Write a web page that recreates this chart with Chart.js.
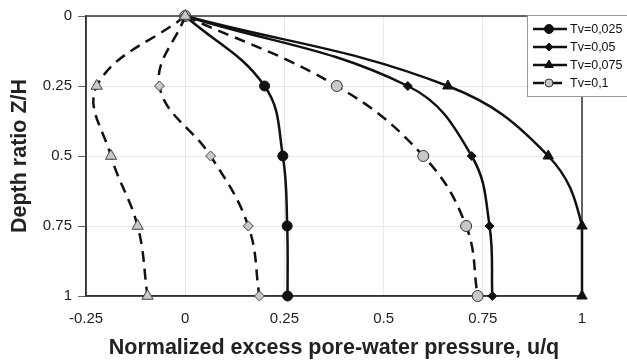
<!DOCTYPE html>
<html>
<head>
<meta charset="utf-8">
<script src="https://cdn.jsdelivr.net/npm/chart.js@4.4.0/dist/chart.umd.min.js"></script>
<style>
  html, body { margin: 0; padding: 0; background: #fff; }
  #wrap { width: 627px; height: 364px; }
</style>
</head>
<body>
<div id="wrap"><canvas id="myChart" width="627" height="364"></canvas></div>
<script>
// depth ratio Z/H (y) and normalized excess pore-water pressure u/q (x)
const depth = [0, 0.25, 0.5, 0.75, 1];
const tv0025 = [0, 0.200, 0.246, 0.257, 0.258];
const tv005 = [0, 0.561, 0.722, 0.767, 0.774];
const tv0075 = [0, 0.662, 0.915, 1.0, 1.0];
const tv01 = [0, 0.382, 0.600, 0.708, 0.737];
const dashDiamond = [0, -0.065, 0.064, 0.159, 0.187];
const dashTriangle = [0, -0.223, -0.187, -0.120, -0.095];

const xTicks = [-0.25, 0, 0.25, 0.5, 0.75, 1];
const yTicks = [0, 0.25, 0.5, 0.75, 1];

function toPoints(values) {
    return values.map((v, i) => ({ x: v, y: depth[i] }));
}

const DARK = '#111';
const GRAY = '#c8c8c8';
const FONT = '"Liberation Sans", Arial, sans-serif';

// frame around the plot area (top + right sides)
const framePlugin = {
    id: 'frame',
    beforeDatasetsDraw(chart) {
        const { ctx, chartArea } = chart;
        ctx.save();
        ctx.strokeStyle = '#333';
        ctx.lineWidth = 1.5;
        ctx.strokeRect(chartArea.left, chartArea.top, chartArea.right - chartArea.left, chartArea.bottom - chartArea.top);
        ctx.restore();
    }
};

// boxed legend in the top right corner, only for the labelled series
const boxLegend = {
    id: 'boxLegend',
    afterDraw(chart) {
        const c = chart.ctx;
        const items = chart.data.datasets.filter(d => d.inLegend);
        c.save();
        c.fillStyle = '#fff';
        c.fillRect(527, 15, 120, 81);
        c.strokeStyle = '#999';
        c.lineWidth = 1;
        c.strokeRect(527.5, 15.5, 120, 81);
        c.font = '12.5px ' + FONT;
        c.textBaseline = 'middle';
        items.forEach((d, i) => {
            const y = 29 + i * 18;
            c.strokeStyle = d.borderColor;
            c.lineWidth = 2.5;
            c.setLineDash(d.borderDash || []);
            c.beginPath();
            c.moveTo(533, y);
            c.lineTo(567, y);
            c.stroke();
            c.setLineDash([]);
            c.fillStyle = d.pointBackgroundColor;
            c.strokeStyle = d.pointBorderColor;
            c.lineWidth = d.pointBorderWidth;
            Chart.helpers.drawPoint(c, {
                pointStyle: d.pointStyle,
                radius: d.legendRadius,
                borderWidth: d.pointBorderWidth,
                rotation: 0
            }, 549, y);
            c.fillStyle = '#111';
            c.fillText(d.label, 570, y + 0.5);
        });
        c.restore();
    }
};

const ctx = document.getElementById('myChart').getContext('2d');
const myChart = new Chart(ctx, {
    type: 'scatter',
    data: {
        datasets: [
            {
                label: 'Tv=0,025', inLegend: true, legendRadius: 4.5,
                data: toPoints(tv0025), order: 3,
                borderColor: DARK, borderWidth: 2.5,
                pointStyle: 'circle', pointRadius: 5,
                pointBackgroundColor: DARK, pointBorderColor: DARK, pointBorderWidth: 1
            },
            {
                label: 'Tv=0,05', inLegend: true, legendRadius: 4,
                data: toPoints(tv005), order: 4,
                borderColor: DARK, borderWidth: 2.5,
                pointStyle: 'rectRot', pointRadius: 4.5,
                pointBackgroundColor: DARK, pointBorderColor: DARK, pointBorderWidth: 1
            },
            {
                label: 'Tv=0,075', inLegend: true, legendRadius: 5,
                data: toPoints(tv0075), order: 5,
                borderColor: DARK, borderWidth: 2.5,
                pointStyle: 'triangle', pointRadius: 6,
                pointBackgroundColor: DARK, pointBorderColor: DARK, pointBorderWidth: 1
            },
            {
                label: 'Tv=0,1', inLegend: true, legendRadius: 4,
                data: toPoints(tv01), order: 2,
                borderColor: DARK, borderWidth: 2.5, borderDash: [11, 7],
                pointStyle: 'circle', pointRadius: 5.5,
                pointBackgroundColor: GRAY, pointBorderColor: '#333', pointBorderWidth: 1
            },
            {
                label: '', inLegend: false,
                data: toPoints(dashDiamond), order: 1,
                borderColor: DARK, borderWidth: 2.5, borderDash: [11, 7],
                pointStyle: 'rectRot', pointRadius: 5,
                pointBackgroundColor: GRAY, pointBorderColor: '#444', pointBorderWidth: 1
            },
            {
                label: '', inLegend: false,
                data: toPoints(dashTriangle), order: 0,
                borderColor: DARK, borderWidth: 2.5, borderDash: [11, 7],
                pointStyle: 'triangle', pointRadius: 6.5,
                pointBackgroundColor: GRAY, pointBorderColor: '#444', pointBorderWidth: 1
            }
        ]
    },
    options: {
        responsive: false,
        animation: false,
        devicePixelRatio: 1,
        showLine: true,
        datasets: { scatter: { clip: false } },
        elements: { line: { tension: 0.4, fill: false, capBezierPoints: true } },
        layout: { padding: { top: 16, right: 45, left: 0, bottom: 0 } },
        plugins: {
            legend: { display: false },
            tooltip: { enabled: false }
        },
        scales: {
            x: {
                type: 'linear',
                min: -0.25, max: 1,
                afterBuildTicks: s => { s.ticks = xTicks.map(v => ({ value: v })); },
                afterFit: s => { s.height = 68; },
                grid: { color: '#e8e8e8', drawTicks: false },
                border: { color: '#333', width: 1.5 },
                ticks: {
                    padding: 14, color: '#222',
                    font: { family: FONT, size: 15 },
                    callback: v => String(v)
                },
                title: {
                    display: true,
                    text: 'Normalized excess pore-water pressure, u/q',
                    color: '#222',
                    font: { family: FONT, size: 21.5, weight: 'bold' },
                    padding: { top: 0, bottom: 3 }
                }
            },
            y: {
                type: 'linear',
                reverse: true,
                min: 0, max: 1,
                afterBuildTicks: s => { s.ticks = yTicks.map(v => ({ value: v })); },
                afterFit: s => { s.width = 86; },
                grid: { color: '#e8e8e8', tickColor: '#666', tickLength: 8 },
                border: { color: '#333', width: 1.5 },
                ticks: {
                    padding: 6, color: '#222',
                    font: { family: FONT, size: 15 },
                    callback: v => String(v)
                },
                title: {
                    display: true,
                    text: 'Depth ratio Z/H',
                    color: '#222',
                    font: { family: FONT, size: 21.5, weight: 'bold' },
                    padding: { top: 7, bottom: 0 }
                }
            }
        }
    },
    plugins: [framePlugin, boxLegend]
});
</script>
</body>
</html>
